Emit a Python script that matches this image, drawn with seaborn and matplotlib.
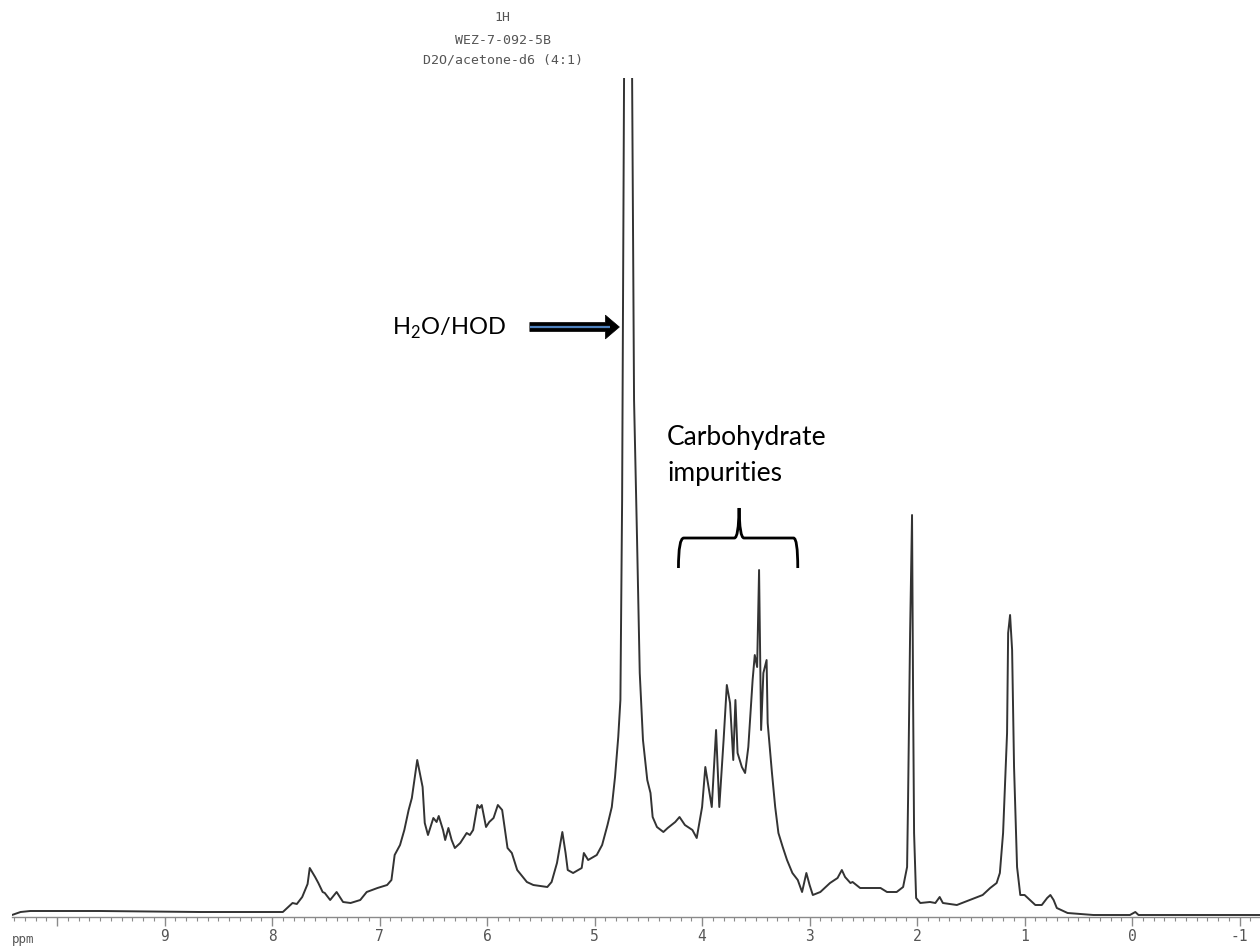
import matplotlib
matplotlib.use("Agg")
import matplotlib.pyplot as plt
import seaborn as sns
import pandas as pd
from matplotlib.path import Path
from matplotlib.patches import PathPatch, FancyArrowPatch
from matplotlib.ticker import FixedLocator, MultipleLocator

# 1H NMR trace (chemical shift in ppm, intensity in arbitrary units)
shift_ppm = [
    10.42, 10.34, 10.25, 9.60, 8.67, 7.90, 7.81, 7.77, 7.72, 7.67,
    7.65, 7.60, 7.57, 7.53, 7.51, 7.46, 7.40, 7.37, 7.34, 7.27,
    7.18, 7.12, 7.02, 6.93, 6.89, 6.86, 6.81, 6.77, 6.73, 6.70,
    6.65, 6.60, 6.58, 6.55, 6.50, 6.47, 6.45, 6.41, 6.39, 6.36,
    6.33, 6.30, 6.25, 6.19, 6.16, 6.13, 6.09, 6.07, 6.05, 6.01,
    5.98, 5.94, 5.90, 5.86, 5.81, 5.77, 5.72, 5.63, 5.57, 5.44,
    5.40, 5.35, 5.30, 5.27, 5.25, 5.20, 5.12, 5.10, 5.06, 4.98,
    4.93, 4.88, 4.84, 4.81, 4.78, 4.76, 4.744, 4.735, 4.726, 4.688,
    4.651, 4.633, 4.605, 4.58, 4.55, 4.51, 4.48, 4.46, 4.42, 4.36,
    4.32, 4.25, 4.21, 4.16, 4.09, 4.05, 4.00, 3.97, 3.94, 3.91,
    3.87, 3.84, 3.80, 3.77, 3.74, 3.71, 3.69, 3.67, 3.63, 3.60,
    3.57, 3.53, 3.51, 3.488, 3.470, 3.451, 3.43, 3.40, 3.39, 3.35,
    3.32, 3.29, 3.25, 3.21, 3.16, 3.11, 3.07, 3.03, 3.00, 2.97,
    2.90, 2.81, 2.74, 2.70, 2.67, 2.62, 2.60, 2.53, 2.34, 2.28,
    2.19, 2.13, 2.093, 2.084, 2.065, 2.047, 2.037, 2.028, 2.009, 1.97,
    1.88, 1.83, 1.79, 1.76, 1.63, 1.51, 1.39, 1.32, 1.26, 1.23,
    1.200, 1.163, 1.153, 1.135, 1.116, 1.098, 1.070, 1.04, 1.00, 0.95,
    0.90, 0.84, 0.79, 0.76, 0.73, 0.70, 0.60, 0.36, 0.02, -0.03,
    -0.06, -1.19,
]
intensity = [
    -3, 0, 1, 1, 0, 0, 9, 8, 15, 28,
    44, 35, 29, 20, 19, 12, 20, 15, 10, 9,
    12, 20, 24, 27, 32, 57, 67, 82, 102, 114,
    152, 125, 89, 77, 94, 90, 96, 82, 72, 84,
    72, 64, 69, 79, 77, 82, 107, 104, 107, 85,
    90, 94, 107, 102, 64, 59, 42, 30, 27, 25,
    30, 49, 80, 59, 42, 39, 44, 59, 52, 57,
    67, 87, 105, 135, 175, 212, 412, 612, 834, 4000,
    834, 512, 372, 239, 172, 132, 119, 95, 85, 80,
    84, 90, 95, 87, 82, 74, 105, 145, 125, 105,
    182, 105, 172, 227, 209, 152, 212, 159, 145, 139,
    165, 232, 257, 245, 342, 182, 239, 252, 189, 139,
    105, 79, 65, 52, 39, 32, 20, 39, 27, 17,
    20, 29, 34, 42, 35, 29, 30, 24, 24, 20,
    20, 25, 45, 112, 279, 397, 212, 79, 14, 9,
    10, 9, 15, 9, 7, 12, 17, 24, 29, 39,
    79, 179, 279, 297, 262, 145, 45, 17, 17, 12,
    7, 7, 14, 17, 12, 4, -1, -3, -3, 0,
    -3, -3,
]

major_ticks = [10, 9, 8, 7, 6, 5, 4, 3, 2, 1, 0, -1]
major_labels = ["", "9", "8", "7", "6", "5", "4", "3", "2", "1", "0", "-1"]
header_lines = ["1H", "WEZ-7-092-5B", "D2O/acetone-d6 (4:1)"]

sns.set_style("white")
plt.rcParams["font.family"] = ["Lato", "DejaVu Sans"]
plt.rcParams["mathtext.fontset"] = "custom"
plt.rcParams["mathtext.rm"] = "Lato"

spectrum = pd.DataFrame({"ppm": shift_ppm, "intensity": intensity})

fig = plt.figure(figsize=(12.6, 9.48), dpi=100)
ax = fig.add_axes([0.0095, 0.0327, 0.9905, 0.885])

sns.lineplot(data=spectrum, x="ppm", y="intensity", sort=False, estimator=None,
             color="#333333", linewidth=1.4, ax=ax)

ax.set_xlim(10.42, -1.19)
ax.set_ylim(-5, 834)
ax.set_xlabel("")
ax.set_ylabel("")
ax.set_yticks([])
for side in ["top", "left", "right"]:
    ax.spines[side].set_visible(False)
ax.spines["bottom"].set_color("#8a8a8a")
ax.spines["bottom"].set_linewidth(1.0)

ax.xaxis.set_major_locator(FixedLocator(major_ticks))
ax.set_xticklabels(major_labels, family="DejaVu Sans Mono", fontsize=10.5, color="#555555")
ax.xaxis.set_minor_locator(MultipleLocator(0.1))
ax.tick_params(axis="x", which="major", direction="out", length=6.5, width=1,
               color="#8a8a8a", pad=2, bottom=True)
ax.tick_params(axis="x", which="minor", direction="out", length=3, width=0.8,
               color="#8a8a8a", bottom=True)

fig.text(12 / 1260, 1 - 940 / 948, "ppm", ha="left", va="center",
         family="DejaVu Sans Mono", fontsize=9, color="#555555")

# spectrometer header
for i, line in enumerate(header_lines):
    fig.text(0.399, [0.982, 0.957, 0.937][i], line, ha="center", va="center",
             family="DejaVu Sans Mono", fontsize=9.5, color="#555555")

# water / HOD label and arrow
ax.text(6.884, 577, r"H$_\mathregular{2}$O/HOD", ha="left", va="baseline",
        fontsize=17, color="black")
arrow = FancyArrowPatch((5.628, 585), (4.744, 585),
                        arrowstyle="simple,head_length=10,head_width=17,tail_width=6.5",
                        mutation_scale=1, fc="black", ec="black", lw=0.5)
ax.add_patch(arrow)
ax.plot([5.60, 4.86], [585, 585], color="#4f81bd", lw=1.6, solid_capstyle="butt")

# carbohydrate label with curly brace
ax.text(4.326, 467, "Carbohydrate", ha="left", va="baseline", fontsize=19, color="black")
ax.text(4.326, 431, "impurities", ha="left", va="baseline", fontsize=19, color="black")

verts = [
    (4.22, 344), (4.22, 374), (4.17, 374),
    (3.70, 374),
    (3.66, 374), (3.656, 404),
    (3.652, 374), (3.61, 374),
    (3.15, 374),
    (3.11, 374), (3.11, 344),
]
codes = [Path.MOVETO, Path.CURVE3, Path.CURVE3,
         Path.LINETO,
         Path.CURVE3, Path.CURVE3,
         Path.CURVE3, Path.CURVE3,
         Path.LINETO,
         Path.CURVE3, Path.CURVE3]
ax.add_patch(PathPatch(Path(verts, codes), fc="none", ec="black", lw=2.0))

fig.savefig("out.png", dpi=100)
